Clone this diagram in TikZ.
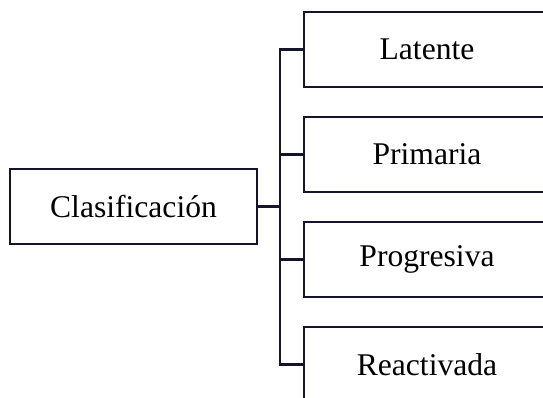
\documentclass[tikz,border=0pt]{standalone}
\usepackage{fontspec}
\setmainfont{Liberation Serif}
\usepackage{tikz}
\usetikzlibrary{positioning}
\definecolor{ink}{HTML}{14142A}

\begin{document}
\begin{tikzpicture}[x=1pt,y=-1pt,line width=2.5pt,
  font=\fontsize{31.6}{38}\selectfont,
  box/.style={draw=ink,rectangle,outer sep=0pt,minimum height=75pt,align=center},
  leaf/.style={box,minimum width=246pt},
  node distance=30pt]
\useasboundingbox (0,0) rectangle (543,397);
\clip (0,0) rectangle (543,397);
\node[box,minimum width=247pt] (clas) at (133.5,206.5) {Clasificación};
\node[leaf] (lat) at (427,49.5) {Latente};
\node[leaf,below=of lat] (pri) {Primaria};
\node[leaf,below=of pri] (pro) {Progresiva};
\node[leaf,below=of pro] (rea) {Reactivada};
\coordinate (bus) at (280,0);
% tree lines
\draw[ink] (lat.west) -- (lat.west -| bus) -- (rea.west -| bus) -- (rea.west);
\draw[ink] (pri.west -| bus) -- (pri.west);
\draw[ink] (pro.west -| bus) -- (pro.west);
\draw[ink] (clas.east) -- (clas.east -| bus);
\end{tikzpicture}
\end{document}
